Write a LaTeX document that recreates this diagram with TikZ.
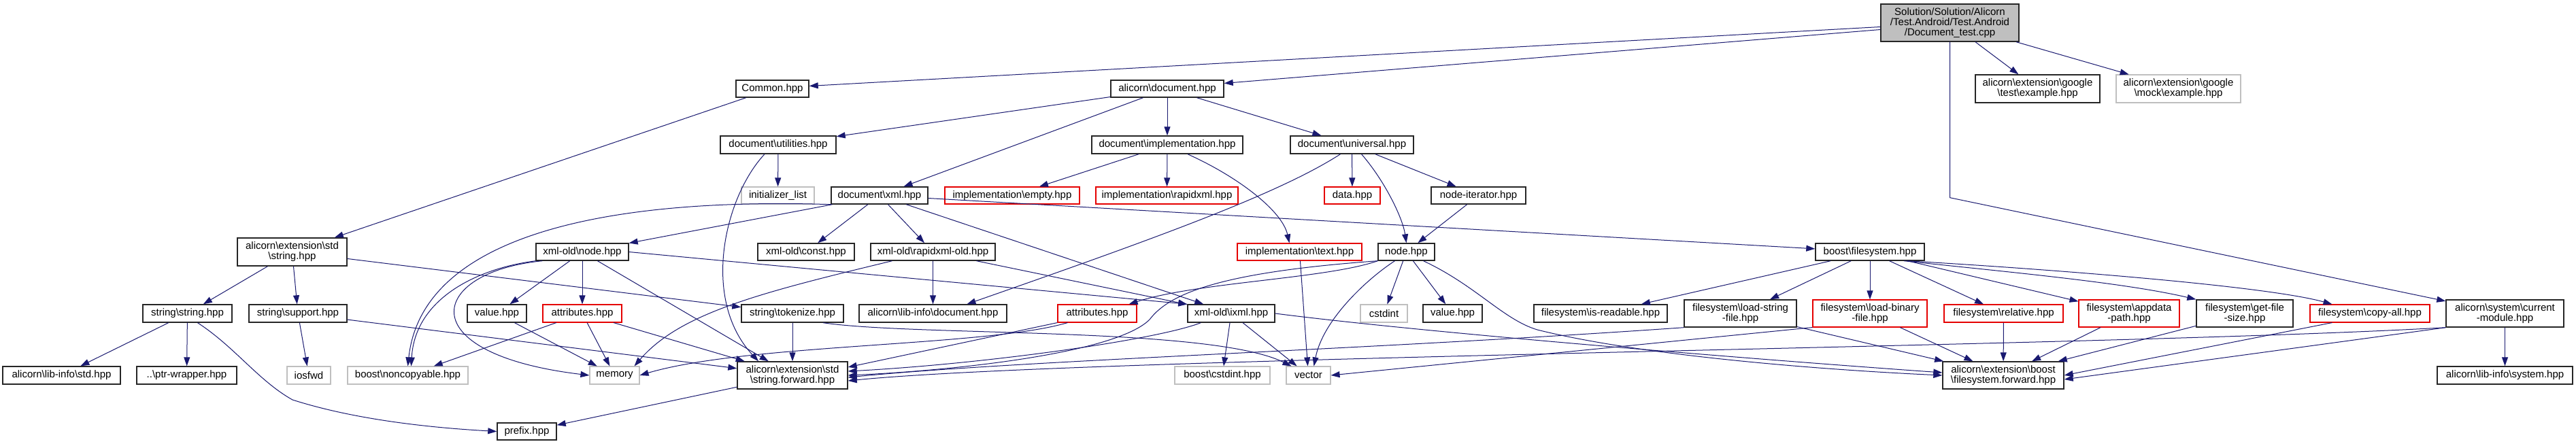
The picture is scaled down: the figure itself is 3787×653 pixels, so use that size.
\documentclass[tikz,border=0pt]{standalone}
\usepackage{fontspec}
\setmainfont{Liberation Sans}
\usetikzlibrary{arrows.meta}
\definecolor{edgec}{HTML}{191970}
\definecolor{greyb}{HTML}{BFBFBF}
\newcommand\bsl{\textbackslash}
\newcommand\nd[7]{\node[#2,minimum width={(#5-#3)*1pt},minimum height={(#6-#4)*1pt}] (#1) at ({(#3+#5)/2},{(#4+#6)/2}) {#7};}
\tikzset{
  box/.style={draw=black!85, line width=1.4pt, fill=white, inner sep=0pt, align=center, font=\fontsize{15}{15}\selectfont},
  redbox/.style={box, draw=red!90!black, line width=1.1pt},
  greybox/.style={box, draw=greyb, line width=1.1pt},
  rootbox/.style={box, fill=greyb},
  dep/.style={draw=edgec, line width=1pt, -{Triangle[length=13pt,width=9pt]}}
}
\begin{document}
\begin{tikzpicture}[x=1pt,y=-1pt]
\fill[white] (0,0) rectangle (3787,653);
\useasboundingbox (0,0) rectangle (3787,653);
% row 0/1
\nd{root}{rootbox}{2765}{6}{2968}{61}{Solution/Solution/Alicorn\\/Test.Android/Test.Android\\/Document\_test.cpp}
\nd{common}{box}{1082}{118}{1189}{143}{Common.hpp}
\nd{adoc}{box}{1633}{118}{1799}{143}{alicorn\bsl document.hpp}
\nd{gtest}{box}{2904}{110}{3087}{151}{alicorn\bsl extension\bsl google\\\bsl test\bsl example.hpp}
\nd{gmock}{greybox}{3111}{110}{3294}{151}{alicorn\bsl extension\bsl google\\\bsl mock\bsl example.hpp}
% row 2
\nd{util}{box}{1059}{200}{1229}{226}{document\bsl utilities.hpp}
\nd{impl}{box}{1605}{200}{1827}{226}{document\bsl implementation.hpp}
\nd{univ}{box}{1897}{200}{2078}{226}{document\bsl universal.hpp}
% row 3
\nd{init}{greybox}{1090}{275}{1197}{300}{initializer\_list}
\nd{xml}{box}{1222}{275}{1364}{300}{document\bsl xml.hpp}
\nd{empty}{redbox}{1389}{275}{1587}{300}{implementation\bsl empty.hpp}
\nd{rapid}{redbox}{1611}{275}{1820}{300}{implementation\bsl rapidxml.hpp}
\nd{data}{redbox}{1947}{275}{2029}{300}{data.hpp}
\nd{nodeit}{box}{2104}{275}{2243}{300}{node-iterator.hpp}
% row 4
\nd{stdstr}{box}{349}{350}{510}{391}{alicorn\bsl extension\bsl std\\\bsl string.hpp}
\nd{xnode}{box}{788}{358}{924}{383}{xml-old\bsl node.hpp}
\nd{xconst}{box}{1114}{358}{1256}{383}{xml-old\bsl const.hpp}
\nd{xrapid}{box}{1280}{358}{1463}{383}{xml-old\bsl rapidxml-old.hpp}
\nd{text}{redbox}{1819}{358}{2002}{383}{implementation\bsl text.hpp}
\nd{node}{box}{2026}{358}{2109}{383}{node.hpp}
\nd{bfs}{box}{2669}{358}{2829}{383}{boost\bsl filesystem.hpp}
% row 5
\nd{sstring}{box}{210}{448}{341}{474}{string\bsl string.hpp}
\nd{ssupport}{box}{366}{448}{510}{474}{string\bsl support.hpp}
\nd{xvalue}{box}{687}{448}{774}{474}{value.hpp}
\nd{xattr}{redbox}{798}{448}{914}{474}{attributes.hpp}
\nd{tokenize}{box}{1090}{448}{1240}{474}{string\bsl tokenize.hpp}
\nd{lidoc}{box}{1263}{448}{1480}{474}{alicorn\bsl lib-info\bsl document.hpp}
\nd{attr}{redbox}{1555}{448}{1671}{474}{attributes.hpp}
\nd{ixml}{box}{1746}{448}{1874}{474}{xml-old\bsl ixml.hpp}
\nd{cstdint}{greybox}{2000}{448}{2069}{474}{cstdint}
\nd{value}{box}{2092}{448}{2179}{474}{value.hpp}
\nd{isread}{box}{2255}{448}{2451}{474}{filesystem\bsl is-readable.hpp}
\nd{loadstr}{box}{2476}{441}{2641}{481}{filesystem\bsl load-string\\-file.hpp}
\nd{loadbin}{redbox}{2665}{441}{2833}{481}{filesystem\bsl load-binary\\-file.hpp}
\nd{relative}{redbox}{2858}{448}{3033}{474}{filesystem\bsl relative.hpp}
\nd{appdata}{redbox}{3056}{441}{3204}{481}{filesystem\bsl appdata\\-path.hpp}
\nd{getsize}{box}{3229}{441}{3371}{481}{filesystem\bsl get-file\\-size.hpp}
\nd{copyall}{redbox}{3396}{448}{3572}{474}{filesystem\bsl copy-all.hpp}
\nd{curmod}{box}{3596}{441}{3769}{481}{alicorn\bsl system\bsl current\\-module.hpp}
% row 6
\nd{listd}{box}{4}{539}{177}{565}{alicorn\bsl lib-info\bsl std.hpp}
\nd{ptrw}{box}{201}{539}{348}{565}{..\bsl ptr-wrapper.hpp}
\nd{iosfwd}{greybox}{422}{539}{486}{565}{iosfwd}
\nd{noncopy}{greybox}{511}{539}{688}{565}{boost\bsl noncopyable.hpp}
\nd{memory}{greybox}{867}{539}{940}{565}{memory}
\nd{strfwd}{box}{1084}{532}{1246}{572}{alicorn\bsl extension\bsl std\\\bsl string.forward.hpp}
\nd{bcstdint}{greybox}{1727}{539}{1867}{565}{boost\bsl cstdint.hpp}
\nd{vector}{greybox}{1891}{539}{1956}{565}{vector}
\nd{fsfwd}{box}{2856}{532}{3034}{572}{alicorn\bsl extension\bsl boost\\\bsl filesystem.forward.hpp}
\nd{lisys}{box}{3583}{539}{3782}{565}{alicorn\bsl lib-info\bsl system.hpp}
% row 7
\nd{prefix}{box}{731}{622}{818}{647}{prefix.hpp}

% ---- edges ----
\draw[dep] ([yshift=-6pt]root.west) -- ([yshift=4pt]common.east);
\draw[dep] ([yshift=-10pt]root.west) -- ([yshift=8pt]adoc.east);
\draw[dep] (root) -- (gtest);
\draw[dep] (root) -- (gmock);
\draw[dep] (root.south) -- ++(0,229) -- (curmod);

\draw[dep] (common) -- (stdstr);
\draw[dep] (adoc) -- (util);
\draw[dep] (adoc) -- (xml);
\draw[dep] (adoc) -- (impl);
\draw[dep] (adoc) -- (univ);
\draw[dep] (util) -- (init);
\draw[dep] ([xshift=-20pt]util.south) .. controls (1065,290) and (1030,440) .. ([xshift=-50pt]strfwd.north);
\draw[dep] (impl) -- (empty);
\draw[dep] (impl) -- (rapid);
\draw[dep] ([xshift=30pt]impl.south) .. controls (1820,260) and (1885,310) .. ([xshift=-15pt]text.north);
\draw[dep] (univ) -- (data);
\draw[dep] (univ) -- (nodeit);
\draw[dep] ([xshift=14pt]univ.south) .. controls (2035,265) and (2062,320) .. (node.north);
\draw[dep] ([xshift=-17pt]univ.south) .. controls (1880,285) and (1700,350) .. ([xshift=50pt]lidoc.north);
\draw[dep] (nodeit) -- (node);

\draw[dep] (xml.south west) .. controls (880,290) and (620,350) .. (noncopy.north);
\draw[dep] (xml) -- (xnode);
\draw[dep] (xml) -- (xconst);
\draw[dep] (xml) -- (xrapid);
\draw[dep] (xml) -- (ixml);
\draw[dep] (xml) -- (bfs);

\draw[dep] (xnode) -- (xvalue);
\draw[dep] (xnode) -- (xattr);
\draw[dep] (xnode) -- (strfwd);
\draw[dep] ([xshift=10pt]xnode.south west) .. controls (630,400) and (600,520) .. (memory.west);
\draw[dep] (xnode.south west) .. controls (700,395) and (610,440) .. ([xshift=5pt]noncopy.north);
\draw[dep] (xnode.east) -- (ixml.north west);

\draw[dep] (xrapid) -- (lidoc);
\draw[dep] (xrapid) -- (ixml);
\draw[dep] ([xshift=-60pt]xrapid.south) .. controls (1120,430) and (1000,460) .. ([xshift=-8pt]memory.north east);

\draw[dep] (text) -- (vector);
\draw[dep] (node) -- (cstdint);
\draw[dep] (node) -- (value);
\draw[dep] ([xshift=-17pt]node.south) .. controls (2010,410) and (1945,470) .. ([xshift=8pt]vector.north);
\draw[dep] ([xshift=25pt]node.south) .. controls (2170,420) and (2210,470) .. (2260,485) .. controls (2420,525) and (2700,545) .. (fsfwd.west);
\draw[dep] (node.south west) .. controls (1950,410) and (1760,415) .. ([xshift=-12pt]attr.north east);
\draw[dep] (node.south west) .. controls (1800,400) and (1720,430) .. (1690,470) .. controls (1640,520) and (1400,545) .. (strfwd.east);

\draw[dep] ([xshift=15pt]attr.south west) .. controls (1450,510) and (1100,505) .. (memory.east);
\draw[dep] (attr.south west) -- ([yshift=12pt]strfwd.east);

\draw[dep] ([xshift=20pt]ixml.south west) .. controls (1700,500) and (1450,535) .. ([yshift=6pt]strfwd.east);
\draw[dep] (ixml) -- (bcstdint);
\draw[dep] (ixml) -- (vector);
\draw[dep] (ixml.east) .. controls (2100,490) and (2600,530) .. ([yshift=4pt]fsfwd.west);

\draw[dep] (tokenize) -- (strfwd);
\draw[dep] ([xshift=45pt]tokenize.south) .. controls (1350,495) and (1780,480) .. ([xshift=-25pt]vector.north);

\draw[dep] (stdstr) -- (sstring);
\draw[dep] (stdstr) -- (ssupport);
\draw[dep] (stdstr) -- (tokenize);
\draw[dep] (sstring) -- (listd);
\draw[dep] (sstring) -- (ptrw);
\draw[dep] ([xshift=15pt]sstring.south) .. controls (345,510) and (380,560) .. (430,588) .. controls (530,620) and (650,630) .. (prefix.west);
\draw[dep] (ssupport) -- (iosfwd);
\draw[dep] (ssupport) -- (strfwd);
\draw[dep] (xvalue) -- (memory);
\draw[dep] (xattr) -- (memory);
\draw[dep] (xattr) -- (noncopy);
\draw[dep] (xattr) -- (strfwd);
\draw[dep] (strfwd) -- (prefix);

\draw[dep] (bfs) -- (isread);
\draw[dep] (bfs) -- (loadstr);
\draw[dep] (bfs) -- (loadbin);
\draw[dep] (bfs) -- (relative);
\draw[dep] (bfs) -- (appdata);
\draw[dep] ([xshift=50pt]bfs.south) .. controls (2950,400) and (3120,415) .. (getsize.north west);
\draw[dep] ([xshift=55pt]bfs.south) .. controls (3000,395) and (3330,420) .. ([xshift=33pt]copyall.north west);

\draw[dep] (loadstr) -- (fsfwd);
\draw[dep] (loadstr.south west) .. controls (2000,515) and (1500,530) .. ([yshift=-3pt]strfwd.east);
\draw[dep] (loadbin) -- (fsfwd);
\draw[dep] (loadbin.south west) -- (vector.east);
\draw[dep] (relative) -- (fsfwd);
\draw[dep] (appdata) -- (fsfwd);
\draw[dep] (getsize) -- (fsfwd);
\draw[dep] ([xshift=33pt]copyall.south west) -- (fsfwd.east);
\draw[dep] (curmod.south west) -- ([yshift=-6pt]fsfwd.east);
\draw[dep] (curmod.south west) .. controls (3100,510) and (1600,525) .. ([yshift=-8pt]strfwd.east);
\draw[dep] (curmod) -- (lisys);
\end{tikzpicture}
\end{document}
